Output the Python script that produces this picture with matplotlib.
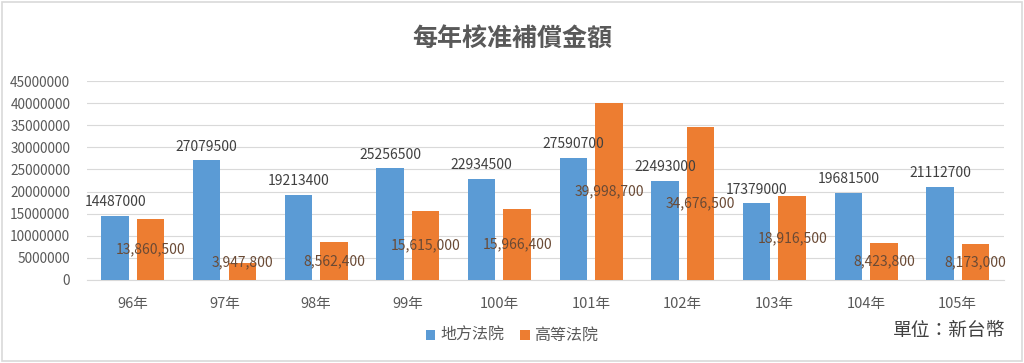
import matplotlib
matplotlib.use("Agg")
import matplotlib.pyplot as plt
import numpy as np
from matplotlib.patches import Rectangle

plt.rcParams['font.family'] = ['Noto Sans CJK TC', 'DejaVu Sans']

years = ["96年", "97年", "98年", "99年", "100年", "101年", "102年", "103年", "104年", "105年"]
district = [14487000, 27079500, 19213400, 25256500, 22934500, 27590700, 22493000, 17379000, 19681500, 21112700]
high = [13860500, 3947800, 8562400, 15615000, 15966400, 39998700, 34676500, 18916500, 8423800, 8173000]
series_names = ["地方法院", "高等法院"]

blue = "#5B9BD5"
orange = "#ED7D31"
grey = "#595959"

fig = plt.figure(figsize=(10.24, 3.63), dpi=100)
ax = fig.add_axes([0.085, 0.2287, 0.895, 0.548])

x = np.arange(len(years))
off = 0.194
w = 0.30
ax.bar(x - off, district, w, color=blue, label=series_names[0], zorder=3)
ax.bar(x + off, high, w, color=orange, label=series_names[1], zorder=3)

# blue labels above the bar, orange labels inside the bar (comma format)
for xi, v in zip(x, district):
    ax.text(xi - off, v + 1500000, f"{v}", ha="center", va="bottom",
            fontsize=10, color="#404040", zorder=4)
for xi, v in zip(x, high):
    ypos = max(v / 2, 4000000)
    ax.text(xi + off, ypos, f"{v:,}", ha="center", va="center",
            fontsize=10, color="#6a4a35", zorder=4)

ax.set_xlim(-0.5, len(years) - 0.5)
ax.set_ylim(0, 45000000)
ax.set_yticks(np.arange(0, 45000001, 5000000))
ax.set_yticklabels([f"{int(t)}" for t in ax.get_yticks()])
ax.set_xticks(x)
ax.set_xticklabels(years)
ax.tick_params(axis="y", length=0, colors=grey, labelsize=9.8, pad=12)
ax.tick_params(axis="x", length=0, colors=grey, labelsize=10.5, pad=12)
ax.grid(axis="y", color="#d9d9d9", linewidth=0.8, zorder=0)
for s in ["top", "right", "left"]:
    ax.spines[s].set_visible(False)
ax.spines["bottom"].set_color("#d9d9d9")

fig.text(0.5, 0.893, "每年核准補償金額", ha="center", va="center",
         fontsize=18, color=grey, fontweight="semibold")
fig.text(0.982, 0.09, "單位：新台幣", ha="right", va="center",
         fontsize=13.5, color="#404040")

fig.legend(loc="center", bbox_to_anchor=(0.5, 0.075), ncol=2, frameon=False,
           fontsize=11.5, handlelength=0.6, handleheight=0.6, columnspacing=1.0,
           handletextpad=0.3, labelcolor=grey)

fig.patches.append(Rectangle((0.002, 0.005), 0.996, 0.99, transform=fig.transFigure,
                             fill=False, edgecolor="#d9d9d9", linewidth=1.2))

fig.savefig("out.png", dpi=100)
